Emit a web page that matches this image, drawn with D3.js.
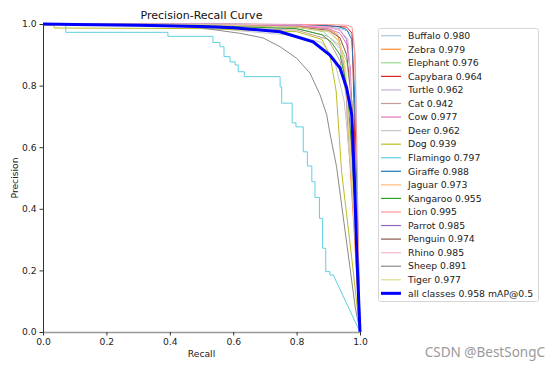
<!DOCTYPE html>
<html><head><meta charset="utf-8">
<script src="https://cdn.jsdelivr.net/npm/d3@7"></script>
<style>body{margin:0;background:#fff}svg{display:block}</style>
</head><body><svg id="c" width="553" height="369"></svg>
<script>
const xTicks = [0, 0.2, 0.4, 0.6, 0.8, 1.0];
const yTicks = [0, 0.2, 0.4, 0.6, 0.8, 1.0];
const classNames = ["Buffalo","Zebra","Elephant","Capybara","Turtle","Cat","Cow","Deer","Dog","Flamingo","Giraffe","Jaguar","Kangaroo","Lion","Parrot","Penguin","Rhino","Sheep","Tiger"];
const apValues = [0.980,0.979,0.976,0.964,0.962,0.942,0.977,0.962,0.939,0.797,0.988,0.973,0.955,0.995,0.985,0.974,0.985,0.891,0.977];
const classColors = ["#a6c8e4","#ff8a2a","#98d98a","#d62728","#c5b0d5","#c49c94","#e377c2","#c7c7c7","#bcbd22","#5fd0e0","#1f77b4","#ffbb78","#2ca02c","#ff9896","#9467bd","#8c564b","#f7b6d2","#8a8a8a","#dbdb8d"];

// [recall, precision] pairs
const buffaloPR = [[0,1],[0.6,0.998],[0.8,0.995],[0.9,0.99],[0.937,0.985],[0.958,0.978],[0.974,0.965],[0.985,0.9],[0.99,0.6],[0.994,0.3],[1,0]];
const zebraPR = [[0,1],[0.5,0.998],[0.8,0.993],[0.9,0.985],[0.93,0.965],[0.945,0.9],[0.955,0.8],[0.965,0.6],[0.98,0.35],[1,0]];
const elephantPR = [[0,1],[0.5,0.998],[0.8,0.99],[0.885,0.975],[0.905,0.955],[0.937,0.93],[0.958,0.88],[0.974,0.75],[0.985,0.4],[1,0]];
const capybaraPR = [[0,1],[0.5,0.998],[0.9,0.994],[0.958,0.99],[0.975,0.97],[0.982,0.7],[0.986,0.4],[0.99,0.2],[1,0]];
const turtlePR = [[0,1],[0.5,0.995],[0.8,0.985],[0.9,0.96],[0.937,0.92],[0.955,0.82],[0.962,0.62],[0.974,0.5],[0.988,0.28],[1,0]];
const catPR = [[0,1],[0.5,0.99],[0.8,0.98],[0.9,0.95],[0.937,0.88],[0.958,0.76],[0.974,0.58],[0.988,0.25],[1,0]];
const cowPR = [[0,1],[0.5,0.998],[0.8,0.995],[0.9,0.985],[0.937,0.97],[0.958,0.935],[0.97,0.85],[0.978,0.6],[0.988,0.35],[1,0]];
const deerPR = [[0,1],[0.4,0.998],[0.5,0.994],[0.62,0.978],[0.8,0.962],[0.88,0.94],[0.92,0.88],[0.95,0.75],[0.97,0.55],[0.985,0.3],[1,0]];
const dogPR = [[0,0.996],[0.035,0.996],[0.036,0.987],[0.5,0.985],[0.8,0.975],[0.88,0.95],[0.905,0.9],[0.925,0.78],[0.942,0.52],[0.958,0.38],[0.974,0.24],[0.99,0.09],[1,0]];
const flamingoPR = [[0,1],[0.072,1],[0.072,0.973],[0.394,0.973],[0.394,0.96],[0.536,0.96],[0.536,0.94],[0.558,0.94],[0.558,0.926],[0.571,0.926],[0.571,0.894],[0.59,0.894],[0.59,0.877],[0.606,0.877],[0.606,0.867],[0.616,0.867],[0.616,0.845],[0.635,0.845],[0.635,0.829],[0.748,0.829],[0.748,0.796],[0.753,0.796],[0.753,0.743],[0.786,0.743],[0.786,0.679],[0.798,0.679],[0.798,0.666],[0.821,0.666],[0.821,0.585],[0.834,0.585],[0.834,0.539],[0.848,0.539],[0.848,0.488],[0.858,0.488],[0.858,0.437],[0.872,0.437],[0.872,0.369],[0.882,0.369],[0.882,0.272],[0.892,0.272],[0.892,0.196],[0.905,0.196],[0.905,0.185],[0.916,0.185],[0.918,0.18],[1,0]];
const giraffePR = [[0,1],[0.5,1],[0.8,0.998],[0.9,0.995],[0.937,0.99],[0.958,0.982],[0.974,0.95],[0.982,0.8],[0.988,0.55],[0.994,0.3],[1,0]];
const jaguarPR = [[0,1],[0.5,0.998],[0.8,0.99],[0.9,0.975],[0.93,0.95],[0.95,0.88],[0.962,0.72],[0.975,0.5],[0.99,0.22],[1,0]];
const kangarooPR = [[0,1],[0.5,0.995],[0.8,0.985],[0.88,0.965],[0.91,0.94],[0.937,0.9],[0.958,0.8],[0.974,0.6],[0.988,0.3],[1,0]];
const lionPR = [[0,1],[0.6,1],[0.9,0.998],[0.958,0.996],[0.975,0.99],[0.982,0.93],[0.987,0.75],[0.992,0.45],[1,0]];
const parrotPR = [[0,1],[0.5,1],[0.8,0.997],[0.9,0.99],[0.937,0.98],[0.958,0.95],[0.968,0.86],[0.978,0.6],[0.988,0.4],[1,0]];
const penguinPR = [[0,1],[0.5,0.998],[0.8,0.99],[0.9,0.98],[0.937,0.955],[0.958,0.9],[0.974,0.75],[0.988,0.35],[1,0]];
const rhinoPR = [[0,1],[0.5,1],[0.8,0.997],[0.9,0.99],[0.937,0.98],[0.962,0.95],[0.968,0.85],[0.974,0.7],[0.988,0.4],[1,0]];
const sheepPR = [[0,1],[0.3,0.998],[0.45,0.992],[0.5,0.987],[0.62,0.97],[0.694,0.955],[0.748,0.926],[0.8,0.889],[0.842,0.841],[0.874,0.77],[0.895,0.705],[0.905,0.646],[0.926,0.537],[0.947,0.374],[0.968,0.212],[0.985,0.08],[1,0]];
const tigerPR = [[0,1],[0.5,0.998],[0.8,0.99],[0.9,0.975],[0.937,0.94],[0.955,0.85],[0.966,0.65],[0.978,0.45],[0.99,0.2],[1,0]];
const allClassesPR = [[0,1],[0.1,0.998],[0.3,0.996],[0.5,0.992],[0.6,0.988],[0.748,0.975],[0.852,0.942],[0.905,0.899],[0.937,0.857],[0.958,0.792],[0.974,0.705],[0.984,0.45],[0.99,0.25],[1,0]];
const allClassesLabel = "all classes 0.958 mAP@0.5";
const classCurves = [buffaloPR,zebraPR,elephantPR,capybaraPR,turtlePR,catPR,cowPR,deerPR,dogPR,flamingoPR,giraffePR,jaguarPR,kangarooPR,lionPR,parrotPR,penguinPR,rhinoPR,sheepPR,tigerPR];

const svg = d3.select("#c");
const font = "DejaVu Sans, sans-serif";
const x = d3.scaleLinear().domain([0,1]).range([43,360]);
const y = d3.scaleLinear().domain([0,1]).range([332,24]);
const line = d3.line().x(d=>x(d[0])).y(d=>y(d[1]));

const plot = svg.append("g");
classCurves.forEach((pts,i)=>{
  plot.append("path").attr("d", line(pts)).attr("fill","none")
    .attr("stroke", classColors[i]).attr("stroke-width",1);
});
plot.append("path").attr("d", line(allClassesPR)).attr("fill","none")
  .attr("stroke","#0000ff").attr("stroke-width",3);

// axes
const xAxis = svg.append("g").attr("transform","translate(0,332)")
  .call(d3.axisBottom(x).tickValues(xTicks).tickFormat(d3.format(".1f")).tickSizeInner(3.5).tickSizeOuter(0).tickPadding(3));
const yAxis = svg.append("g").attr("transform","translate(43,0)")
  .call(d3.axisLeft(y).tickValues(yTicks).tickFormat(d3.format(".1f")).tickSizeInner(3.5).tickSizeOuter(0).tickPadding(3));
[xAxis,yAxis].forEach(a=>{
  a.selectAll("text").attr("font-family",font).attr("font-size","9.2px").attr("fill","#222");
  a.selectAll("line").attr("stroke","#333");
  a.select(".domain").attr("stroke","#333");
});
xAxis.select(".domain").attr("stroke","#999").attr("stroke-width",1.3);

svg.append("text").attr("x",201.5).attr("y",19).attr("text-anchor","middle")
  .attr("font-family",font).attr("font-size","11px").attr("fill","#111").text("Precision-Recall Curve");
svg.append("text").attr("x",201.5).attr("y",357).attr("text-anchor","middle")
  .attr("font-family",font).attr("font-size","9.2px").attr("fill","#222").text("Recall");
svg.append("text").attr("transform","translate(18,178) rotate(-90)").attr("text-anchor","middle")
  .attr("font-family",font).attr("font-size","9.2px").attr("fill","#222").text("Precision");

// legend
const lg = svg.append("g");
lg.append("rect").attr("x",378.5).attr("y",28.5).attr("width",160).attr("height",273)
  .attr("rx",2).attr("fill","#fff").attr("fill-opacity",0.8).attr("stroke","#d6d6d6");
const rowY = i => 35.7 + i*13.56;
classNames.forEach((n,i)=>{
  lg.append("line").attr("x1",381).attr("x2",401).attr("y1",rowY(i)).attr("y2",rowY(i))
    .attr("stroke",classColors[i]).attr("stroke-width",1.2);
  lg.append("text").attr("x",408).attr("y",rowY(i)).attr("dy","0.35em")
    .attr("font-family",font).attr("font-size","9.3px").attr("fill","#222")
    .text(n + " " + d3.format(".3f")(apValues[i]));
});
lg.append("line").attr("x1",381).attr("x2",401).attr("y1",rowY(19)).attr("y2",rowY(19))
  .attr("stroke","#0000ff").attr("stroke-width",3);
lg.append("text").attr("x",408).attr("y",rowY(19)).attr("dy","0.35em")
  .attr("font-family",font).attr("font-size","9.3px").attr("fill","#222").text(allClassesLabel);

svg.append("text").attr("x",545).attr("y",357).attr("text-anchor","end")
  .attr("font-family","Noto Sans, sans-serif").attr("font-size","13.5px").attr("fill","#9a9a9a").text("CSDN @BestSongC");
</script></body></html>
